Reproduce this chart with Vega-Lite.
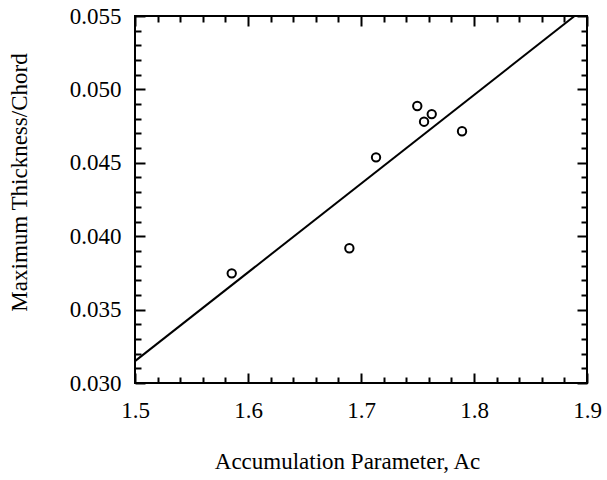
{
  "$schema": "https://vega.github.io/schema/vega-lite/v6.json",
  "width": 452,
  "height": 367,
  "autosize": {"type": "none"},
  "padding": {"left": 135, "top": 16, "right": 20, "bottom": 97},
  "background": "white",
  "view": {"stroke": "black", "strokeWidth": 2},
  "config": {
    "font": "Liberation Serif",
    "axis": {
      "domain": false,
      "grid": false,
      "tickColor": "black",
      "tickWidth": 2,
      "labelFont": "Liberation Serif",
      "labelFontSize": 23,
      "labelColor": "black",
      "titleFont": "Liberation Serif",
      "titleFontSize": 23,
      "titleFontWeight": "normal",
      "titleColor": "black"
    }
  },
  "datasets": {
    "points": [
      {"A": 1.5856, "t": 0.03747},
      {"A": 1.6897, "t": 0.03918},
      {"A": 1.7133, "t": 0.04537},
      {"A": 1.7498, "t": 0.04887},
      {"A": 1.7558, "t": 0.04780},
      {"A": 1.7626, "t": 0.04832},
      {"A": 1.7894, "t": 0.04715}
    ],
    "fit": [
      {"A": 1.5, "t": 0.03149},
      {"A": 1.889, "t": 0.055}
    ]
  },
  "resolve": {"axis": {"x": "independent", "y": "independent"}},
  "layer": [
    {
      "data": {"name": "fit"},
      "mark": {"type": "line", "color": "black", "strokeWidth": 2, "clip": true},
      "encoding": {
        "x": {
          "field": "A", "type": "quantitative",
          "scale": {"domain": [1.5, 1.9], "nice": false, "zero": false},
          "axis": {
            "orient": "bottom", "values": [1.5, 1.6, 1.7, 1.8, 1.9], "format": ".1f",
            "tickSize": -10, "labelPadding": 26, "labelFlush": false,
            "labelFont": "Liberation Serif",
            "title": "Accumulation Parameter, Ac", "titlePadding": 28, "titleX": 212
          }
        },
        "y": {
          "field": "t", "type": "quantitative",
          "scale": {"domain": [0.03, 0.055], "nice": false, "zero": false},
          "axis": {
            "orient": "left", "values": [0.03, 0.035, 0.04, 0.045, 0.05, 0.055], "format": ".3f",
            "tickSize": -10, "labelPadding": 24, "labelFlush": false,
            "labelFont": "Liberation Serif",
            "title": "Maximum Thickness/Chord", "titleX": -104, "titleY": 166
          }
        }
      }
    },
    {
      "data": {"name": "points"},
      "mark": {"type": "point", "shape": "circle", "filled": false, "color": "black", "strokeWidth": 2, "size": 70, "opacity": 1},
      "encoding": {
        "x": {
          "field": "A", "type": "quantitative",
          "axis": {
            "orient": "top", "values": [1.5, 1.6, 1.7, 1.8, 1.9],
            "tickSize": -10, "labels": false, "title": null
          }
        },
        "y": {
          "field": "t", "type": "quantitative",
          "axis": {
            "orient": "right", "values": [0.03, 0.035, 0.04, 0.045, 0.05, 0.055],
            "tickSize": -10, "labels": false, "title": null
          }
        }
      }
    },
    {
      "data": {"name": "fit"},
      "mark": {"type": "line", "opacity": 0},
      "encoding": {
        "x": {
          "field": "A", "type": "quantitative",
          "axis": {
            "orient": "bottom",
            "values": [1.52, 1.54, 1.56, 1.58, 1.62, 1.64, 1.66, 1.68, 1.72, 1.74, 1.76, 1.78, 1.82, 1.84, 1.86, 1.88],
            "tickSize": -6, "labels": false, "title": null
          }
        },
        "y": {
          "field": "t", "type": "quantitative",
          "axis": {
            "orient": "left",
            "values": [0.031, 0.032, 0.033, 0.034, 0.036, 0.037, 0.038, 0.039, 0.041, 0.042, 0.043, 0.044, 0.046, 0.047, 0.048, 0.049, 0.051, 0.052, 0.053, 0.054],
            "tickSize": -6, "labels": false, "title": null
          }
        }
      }
    },
    {
      "data": {"name": "fit"},
      "mark": {"type": "line", "opacity": 0},
      "encoding": {
        "x": {
          "field": "A", "type": "quantitative",
          "axis": {
            "orient": "top",
            "values": [1.52, 1.54, 1.56, 1.58, 1.62, 1.64, 1.66, 1.68, 1.72, 1.74, 1.76, 1.78, 1.82, 1.84, 1.86, 1.88],
            "tickSize": -6, "labels": false, "title": null
          }
        },
        "y": {
          "field": "t", "type": "quantitative",
          "axis": {
            "orient": "right",
            "values": [0.031, 0.032, 0.033, 0.034, 0.036, 0.037, 0.038, 0.039, 0.041, 0.042, 0.043, 0.044, 0.046, 0.047, 0.048, 0.049, 0.051, 0.052, 0.053, 0.054],
            "tickSize": -6, "labels": false, "title": null
          }
        }
      }
    }
  ]
}
